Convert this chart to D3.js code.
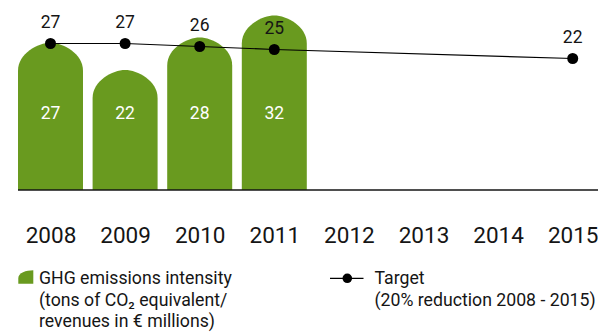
<!DOCTYPE html>
<html>
<head>
<meta charset="utf-8">
<script src="https://cdn.jsdelivr.net/npm/d3@7"></script>
<style>
  html, body { margin: 0; padding: 0; background: #fff; }
  svg { display: block; font-family: Roboto, "Open Sans", sans-serif; }
</style>
</head>
<body>
<svg id="chart" width="598" height="336"></svg>
<script>
// Years on the x axis
const years = ["2008", "2009", "2010", "2011", "2012", "2013", "2014", "2015"];

// GHG emissions intensity (tons CO2 eq. / revenues in € millions)
const intensityYears = ["2008", "2009", "2010", "2011"];
const intensityValues = [27, 22, 28, 32];

// Target path (20% reduction 2008 - 2015)
const targetYears = ["2008", "2009", "2010", "2011", "2015"];
const targetValues = [27, 27, 26, 25, 22];

// Legend entries
const legendBars = ["GHG emissions intensity", "(tons of CO₂ equivalent/", "revenues in € millions)"];
const legendTarget = ["Target", "(20% reduction 2008 - 2015)"];

const GREEN = "#699a1f";
const INK = "#151515";
const FONT = "Roboto, \"Open Sans\", sans-serif";

const svg = d3.select("#chart");

const x = d3.scalePoint().domain(years).range([50.5, 572.7]);
const y = d3.scaleLinear().domain([0, 32]).range([190, 15.6]);
// the target line sits on its own vertical scale
const yT = d3.scaleLinear().domain([22, 27]).range([58.5, 43.5]);

const barW = 65;
const cornerH = 28;

// bar with a softly rounded (squircle-like) top
function barPath(cx, top, base) {
  const x0 = cx - barW / 2, x1 = cx + barW / 2, rx = barW / 2;
  const ry = Math.min(cornerH, base - top);
  const k = 0.62;
  return `M${x0},${base} L${x0},${top + ry}` +
    ` C${x0},${top + ry * (1 - k)} ${cx - rx * (1 - k)},${top} ${cx},${top}` +
    ` C${cx + rx * (1 - k)},${top} ${x1},${top + ry * (1 - k)} ${x1},${top + ry}` +
    ` L${x1},${base} Z`;
}

const bars = intensityYears.map((yr, i) => ({ year: yr, value: intensityValues[i] }));
svg.append("g").selectAll("path").data(bars).join("path")
  .attr("d", d => barPath(x(d.year), y(d.value), y(0)))
  .attr("fill", GREEN);

// baseline
svg.append("line")
  .attr("x1", x("2008") - barW / 2).attr("x2", 598)
  .attr("y1", y(0)).attr("y2", y(0))
  .attr("stroke", INK).attr("stroke-width", 1.3);

// values inside bars
svg.append("g").selectAll("text").data(bars).join("text")
  .attr("x", d => x(d.year)).attr("y", 119)
  .attr("text-anchor", "middle")
  .attr("fill", "#fff").attr("font-size", 17.5)
  .text(d => d.value);

// target line + dots + labels
const target = targetYears.map((yr, i) => ({ year: yr, value: targetValues[i] }));
svg.append("path")
  .datum(target)
  .attr("d", d3.line().x(d => x(d.year)).y(d => yT(d.value)))
  .attr("fill", "none").attr("stroke", "#000").attr("stroke-width", 1.2);

svg.append("g").selectAll("circle").data(target).join("circle")
  .attr("cx", d => x(d.year)).attr("cy", d => yT(d.value))
  .attr("r", 5.5).attr("fill", "#000");

svg.append("g").selectAll("text").data(target).join("text")
  .attr("x", d => x(d.year)).attr("y", d => yT(d.value) - 16)
  .attr("text-anchor", "middle")
  .attr("fill", INK).attr("font-size", 17.5)
  .text(d => d.value);

// x axis year labels
const xAxis = d3.axisBottom(x).tickSize(0).tickPadding(0);
const axisG = svg.append("g").attr("transform", "translate(0,226)").call(xAxis);
axisG.select(".domain").remove();
axisG.selectAll("text")
  .attr("dy", 0).attr("y", 16.5)
  .attr("font-size", 22.5).attr("fill", INK)
  .attr("font-family", FONT);

// legend
const leg = svg.append("g");
leg.append("path")
  .attr("d", "M18.3,283.7 L18.3,278 C18.3,273 26,270.3 33.3,270.3 L33.3,283.7 Z")
  .attr("fill", GREEN);

leg.append("g").selectAll("text").data(legendBars).join("text")
  .attr("x", 39).attr("y", (d, i) => 284 + i * 21.5)
  .attr("font-size", 17.7).attr("fill", INK)
  .text(d => d);

leg.append("line")
  .attr("x1", 330).attr("x2", 363.5).attr("y1", 278.3).attr("y2", 278.3)
  .attr("stroke", "#000").attr("stroke-width", 1.3);
leg.append("circle").attr("cx", 347.3).attr("cy", 278.3).attr("r", 4.8).attr("fill", "#000");

leg.append("g").selectAll("text").data(legendTarget).join("text")
  .attr("x", 374.5).attr("y", (d, i) => 284 + i * 21.5)
  .attr("font-size", 17.7).attr("fill", INK)
  .text(d => d);
</script>
</body>
</html>
